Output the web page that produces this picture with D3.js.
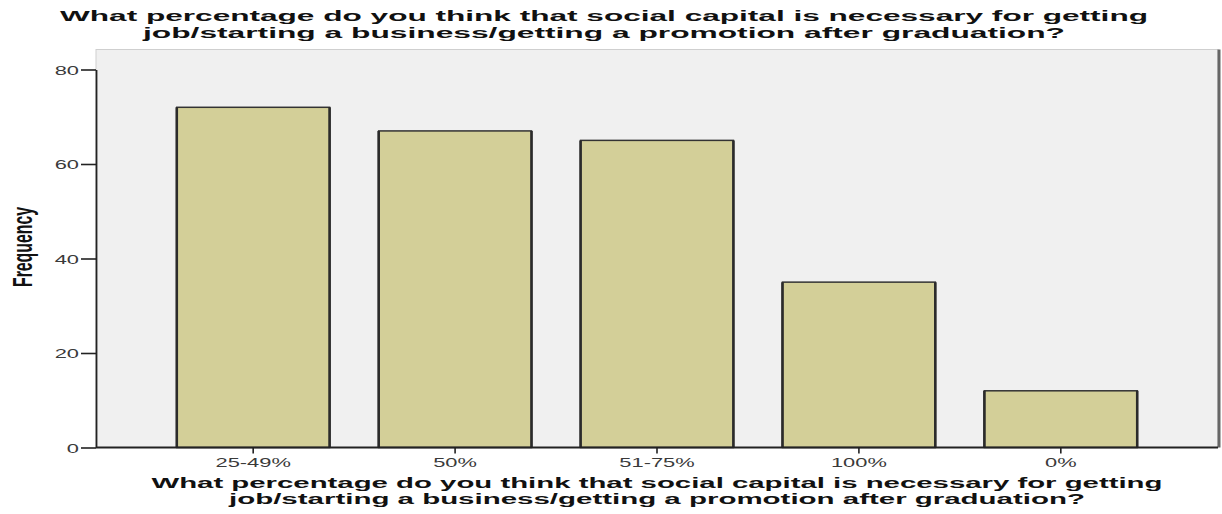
<!DOCTYPE html>
<html>
<head>
<meta charset="utf-8">
<script src="https://cdn.jsdelivr.net/npm/d3@7"></script>
<style>
  html, body { margin: 0; padding: 0; background: #ffffff; }
  svg { display: block; }
</style>
</head>
<body>
<div id="chart"></div>
<script>
// Response categories in display order and their frequencies
const categories = ["25-49%", "50%", "51-75%", "100%", "0%"];
const frequencies = [72, 67, 65, 35, 12];
const yTicks = [0, 20, 40, 60, 80];
const titleLines = [
  "What percentage do you think that social capital is necessary for getting",
  "job/starting a business/getting a promotion after graduation?"
];
const yLabel = "Frequency";

const W = 1222, H = 514;
const plot = { left: 96, right: 1218, top: 49.5, bottom: 447.5 };
// the whole graphic is drawn wide: text glyphs are stretched sideways
const SX = 1.75;
const font = "'Liberation Sans', Arial, Helvetica, sans-serif";

const svg = d3.select("#chart").append("svg")
  .attr("width", W).attr("height", H);

const x = d3.scaleBand()
  .domain(categories)
  .range([plot.left, plot.right])
  .paddingInner(0.243)
  .paddingOuter(0.4);

const y = d3.scaleLinear()
  .domain([0, 80])
  .range([plot.bottom, plot.bottom - 80 * 4.725]);

// plot frame
svg.append("rect")
  .attr("x", plot.left).attr("y", plot.top)
  .attr("width", plot.right - plot.left).attr("height", plot.bottom - plot.top)
  .attr("fill", "#f0f0f0")
  .attr("stroke", "#cfcfcf").attr("stroke-width", 1);
svg.append("line")
  .attr("x1", plot.right + 1).attr("x2", plot.right + 1)
  .attr("y1", plot.top).attr("y2", plot.bottom)
  .attr("stroke", "#666").attr("stroke-width", 3);

// bars
const barData = categories.map((c, i) => ({ c, v: frequencies[i] }));
const bars = svg.append("g");
bars.selectAll("rect")
  .data(barData)
  .join("rect")
  .attr("x", d => x(d.c))
  .attr("y", d => y(d.v))
  .attr("width", x.bandwidth())
  .attr("height", d => y(0) - y(d.v))
  .attr("fill", "#d3cf98")
  .attr("stroke", "#333")
  .attr("stroke-width", 1.5);
// heavier vertical edges
bars.selectAll("path.edge")
  .data(barData)
  .join("path")
  .attr("class", "edge")
  .attr("d", d => `M${x(d.c)},${y(0)}V${y(d.v)}M${x(d.c) + x.bandwidth()},${y(0)}V${y(d.v)}`)
  .attr("stroke", "#2b2b2b")
  .attr("stroke-width", 2.6)
  .attr("fill", "none");

// axes
const yAxis = svg.append("g")
  .attr("transform", `translate(${plot.left},0)`)
  .call(d3.axisLeft(y).tickValues(yTicks).tickSize(15).tickPadding(2).tickSizeOuter(0));
const xAxis = svg.append("g")
  .attr("transform", `translate(0,${plot.bottom})`)
  .call(d3.axisBottom(x).tickSize(6).tickPadding(4).tickSizeOuter(0));

[yAxis, xAxis].forEach(g => {
  g.select(".domain").attr("stroke", "#222").attr("stroke-width", 1.8);
  g.selectAll(".tick line").attr("stroke", "#222").attr("stroke-width", 1.6);
  g.selectAll(".tick text")
    .attr("fill", "#3a3a3a")
    .style("font-family", font)
    .style("font-size", "12.5px");
});
xAxis.select(".domain").attr("d", `M${plot.left},0H${plot.right}`);
xAxis.selectAll(".tick text")
  .attr("y", 0).attr("dy", null)
  .attr("transform", `translate(0,19.5) scale(${SX},1)`);
yAxis.selectAll(".tick text")
  .attr("x", 0).attr("dy", "0.36em")
  .attr("transform", `translate(-17,0) scale(${SX},1)`);

// chart title (top) and category axis title (bottom)
function twoLines(cx, baselines, widths, size) {
  svg.append("g").selectAll("text")
    .data(titleLines)
    .join("text")
    .attr("x", cx)
    .attr("y", (d, i) => baselines[i])
    .attr("text-anchor", "middle")
    .attr("textLength", (d, i) => widths[i])
    .attr("lengthAdjust", "spacingAndGlyphs")
    .style("font-family", font)
    .style("font-weight", "bold")
    .style("font-size", size + "px")
    .attr("fill", "#111")
    .text(d => d);
}
twoLines(604, [21, 37.5], [1088, 922], 14);
twoLines(657, [487.5, 504], [1011, 856], 14);

// value axis title
svg.append("text")
  .attr("transform", `translate(32,247) scale(${SX},1) rotate(-90)`)
  .attr("text-anchor", "middle")
  .attr("textLength", 80)
  .attr("lengthAdjust", "spacingAndGlyphs")
  .style("font-family", font)
  .style("font-weight", "bold")
  .style("font-size", "16px")
  .attr("fill", "#111")
  .text(yLabel);
</script>
</body>
</html>
